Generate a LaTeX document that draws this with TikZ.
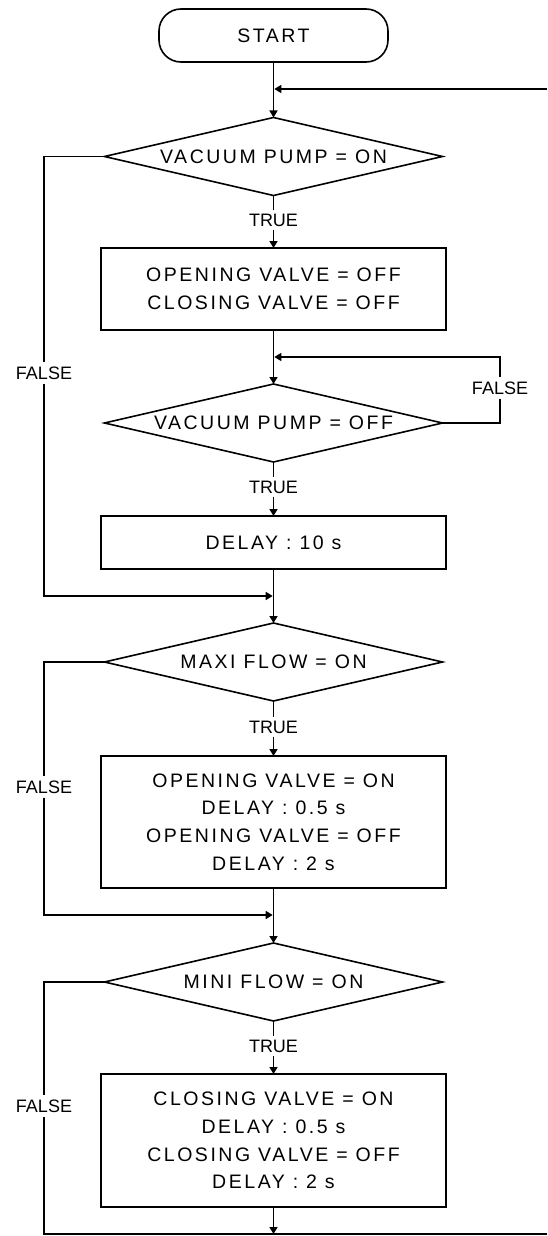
\documentclass[tikz,border=0pt]{standalone}
\usepackage{fontspec}
\setmainfont{Liberation Sans}[LetterSpace=13]
\newfontfamily\tagfont{Liberation Sans}
\usetikzlibrary{shapes.geometric,arrows.meta}
\tikzset{
  flow/.style={line width=1.6pt},
  arr/.style={flow,-{Triangle[length=7pt,width=8pt]}},
  bigtext/.style={font=\fontsize{19.5}{27.7}\selectfont},
  proc/.style={draw,line width=1.6pt,rectangle,minimum width=345pt,inner sep=0pt,
               outer sep=0pt,align=center,bigtext},
  test/.style={draw,line width=1.6pt,diamond,minimum width=338pt,minimum height=78pt,
               inner sep=0pt,outer sep=0pt},
  ttext/.style={bigtext,inner sep=0pt},
  term/.style={draw,line width=1.6pt,rectangle,rounded corners=22pt,minimum width=229pt,
               minimum height=53pt,outer sep=0pt,bigtext},
  tag/.style={font=\tagfont\fontsize{18}{20}\selectfont,inner sep=4pt}
}
\begin{document}
\begin{tikzpicture}[x=1pt,y=-1pt]
\useasboundingbox (0,0) rectangle (547,1236);

% terminal and decision / process blocks
\node[term] (start) at (273.5,35.5) {START};

\node[test] (d1) at (273.5,156.5) {};
\node[ttext] (d1t) at (d1) {VACUUM PUMP = ON};
\node[tag] (t1) at (273.5,220) {TRUE};
\node[proc,minimum height=82pt] (b1) at (273.5,289) {OPENING VALVE = OFF\\CLOSING VALVE = OFF};

\node[test] (d2) at (273.5,423) {};
\node[ttext] (d2t) at (d2) {VACUUM PUMP = OFF};
\node[tag] (t2) at (273.5,487) {TRUE};
\node[proc,minimum height=53pt] (b2) at (273.5,542.5) {DELAY : 10 s};

\node[test] (d3) at (273.5,662) {};
\node[ttext] (d3t) at (d3) {MAXI FLOW = ON};
\node[tag] (t3) at (273.5,727) {TRUE};
\node[proc,minimum height=132pt] (b3) at (273.5,822) {OPENING VALVE = ON\\DELAY : 0.5 s\\OPENING VALVE = OFF\\DELAY : 2 s};

\node[test] (d4) at (273.5,982) {};
\node[ttext] (d4t) at (d4) {MINI FLOW = ON};
\node[tag] (t4) at (273.5,1046) {TRUE};
\node[proc,minimum height=133pt] (b4) at (273.5,1140.5) {CLOSING VALVE = ON\\DELAY : 0.5 s\\CLOSING VALVE = OFF\\DELAY : 2 s};

% branch labels
\node[tag] (f1) at (44,373) {FALSE};
\node[tag] (f2) at (500,388) {FALSE};
\node[tag] (f3) at (44,787) {FALSE};
\node[tag] (f4) at (44,1106) {FALSE};

% junction points on the main line and off-page ends
\coordinate (rin) at (547,89);
\coordinate (j0) at (274.3,89);
\coordinate (j2) at (274.3,357);
\coordinate (j1) at (272.7,596);
\coordinate (j3) at (272.7,915);
\coordinate (j4) at (273.5,1234);
\coordinate (rout) at (547,1234);

% main flow
\draw[arr] (start.south) -- (d1.north);
\draw[arr] (rin) -- (j0);
\draw[flow] (d1.south) -- (t1.north);
\draw[arr] (t1.south) -- (b1.north);
\draw[arr] (b1.south) -- (d2.north);
\draw[flow] (d2.south) -- (t2.north);
\draw[arr] (t2.south) -- (b2.north);
\draw[arr] (b2.south) -- (d3.north);
\draw[flow] (d3.south) -- (t3.north);
\draw[arr] (t3.south) -- (b3.north);
\draw[arr] (b3.south) -- (d4.north);
\draw[flow] (d4.south) -- (t4.north);
\draw[arr] (t4.south) -- (b4.north);
\draw[arr] (b4.south) -- (j4);

% FALSE branches
\draw[flow] (d1.west) -| (f1.north);
\draw[arr] (f1.south) |- (j1);
\draw[flow] (d2.east) -| (f2.south);
\draw[arr] (f2.north) |- (j2);
\draw[flow] (d3.west) -| (f3.north);
\draw[arr] (f3.south) |- (j3);
\draw[flow] (d4.west) -| (f4.north);
\draw[flow] (f4.south) |- (rout);
\end{tikzpicture}
\end{document}
